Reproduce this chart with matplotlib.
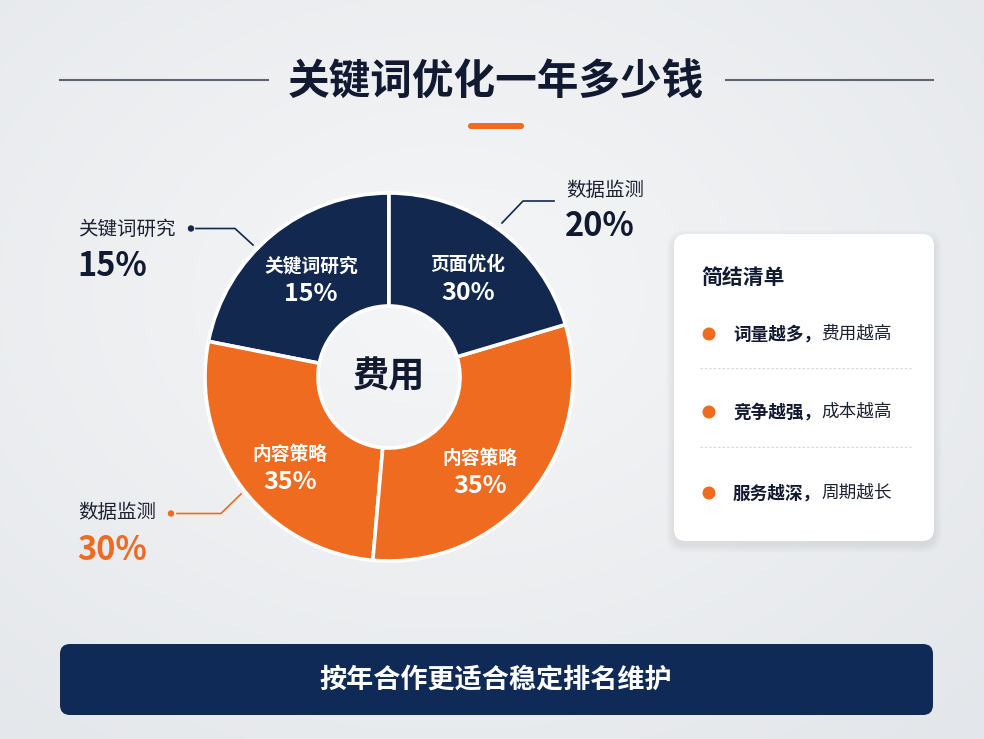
import numpy as np
import matplotlib.pyplot as plt
from matplotlib.patches import FancyBboxPatch, Circle
from matplotlib.colors import LinearSegmentedColormap

plt.rcParams['font.family'] = ['Noto Sans CJK SC', 'DejaVu Sans']

NAVY = '#13284f'
ORANGE = '#ee6b20'
INK = '#111a30'

# --- data ---
title = '关键词优化一年多少钱'
center_label = '费用'
# wedges counterclockwise starting at 12 o'clock
wedge_names = ['关键词研究', '内容策略', '内容策略', '页面优化']
wedge_text = ['15%', '35%', '35%', '30%']
wedge_share = [21.9, 26.7, 31.0, 20.4]   # angular share as drawn
wedge_colors = [NAVY, ORANGE, ORANGE, NAVY]

callout_names = ['关键词研究', '数据监测', '数据监测']
callout_values = ['15%', '20%', '30%']
callout_colors = [NAVY, NAVY, ORANGE]

summary_title = '简结清单'
summary_bold = ['词量越多，', '竞争越强，', '服务越深，']
summary_rest = ['费用越高', '成本越高', '周期越长']
banner_text = '按年合作更适合稳定排名维护'

W, H = 984, 739
fig = plt.figure(figsize=(W / 100, H / 100), dpi=100)

# background axes in pixel coordinates
bg = fig.add_axes([0, 0, 1, 1])
bg.set_xlim(0, W)
bg.set_ylim(H, 0)
bg.axis('off')

yy, xx = np.mgrid[0:H, 0:W]
dist = np.sqrt(((xx - W * 0.45) / W) ** 2 + ((yy - H * 0.4) / H) ** 2)
cmap = LinearSegmentedColormap.from_list('bgc', ['#f5f6f7', '#e3e6ea'])
bg.imshow(dist, cmap=cmap, extent=[0, W, H, 0], aspect='auto', zorder=0)

# title
bg.text(496, 83, title, ha='center', va='center', fontsize=30,
        fontweight='heavy', color=INK, zorder=3)
bg.plot([60, 268], [80, 80], color='#5d6475', lw=1.5, zorder=2)
bg.plot([726, 933], [80, 80], color='#5d6475', lw=1.5, zorder=2)
bg.add_patch(FancyBboxPatch((468, 123), 56, 6, boxstyle='round,pad=0,rounding_size=3',
                            fc=ORANGE, ec='none', zorder=3))

# donut
cx, cy, rad = 389, 377, 184
half = 192
pax = fig.add_axes([(cx - half) / W, (H - cy - half) / H, 2 * half / W, 2 * half / H])
wedges, _ = pax.pie(wedge_share, colors=wedge_colors, startangle=90, counterclock=True,
                    radius=1, wedgeprops=dict(width=0.614, edgecolor='white', linewidth=2.6))
lim = half / rad
pax.set_xlim(-lim, lim)
pax.set_ylim(-lim, lim)
pax.set_aspect('equal')
pax.axis('off')

# small pixel nudges so labels sit where the reference puts them
label_nudge = [(4, -2.5), (4, -14), (-9, -14), (2, -5)]
dy = 14 / rad
for w, name, pct, (nx, ny) in zip(wedges, wedge_names, wedge_text, label_nudge):
    mid = np.deg2rad((w.theta1 + w.theta2) / 2)
    x = 0.70 * np.cos(mid) + nx / rad
    y = 0.70 * np.sin(mid) + ny / rad
    pax.text(x, y + dy, name, ha='center', va='center', fontsize=13.5,
             fontweight='bold', color='white')
    pax.text(x, y - dy, pct, ha='center', va='center', fontsize=18,
             fontweight='bold', color='white')
pax.text(0, 0, center_label, ha='center', va='center', fontsize=26,
         fontweight='bold', color=INK)

# callouts
label_pos = [(78, 229), (566, 190), (78, 513)]
leader_pts = [[(196, 228.5), (235, 228.5), (253, 245)],
              [(554, 201), (523, 201), (502, 223)],
              [(177, 513.5), (221, 513.5), (241, 494)]]
dots = [(191, 228.5), None, (171, 513.5)]
for i in range(3):
    lx, ly = label_pos[i]
    bg.text(lx, ly, callout_names[i], ha='left', va='center', fontsize=14, color='#1d2233')
    vcol = ORANGE if callout_colors[i] == ORANGE else INK
    bg.text(lx - 1, ly + 37, callout_values[i], ha='left', va='center', fontsize=23.5,
            fontweight='heavy', color=vcol)
    px, py = zip(*leader_pts[i])
    bg.plot(px, py, color=callout_colors[i], lw=1.2, zorder=2)
    if dots[i] is not None:
        bg.add_patch(Circle(dots[i], 3.2, fc=callout_colors[i], ec='none', zorder=3))

# summary card with soft shadow
for k in range(8, 0, -1):
    bg.add_patch(FancyBboxPatch((674 - k, 238 - k), 260 + 2 * k, 307 + 2 * k,
                                boxstyle='round,pad=0,rounding_size=%d' % (12 + k),
                                fc='#9aa3b2', ec='none', alpha=0.025, zorder=2))
bg.add_patch(FancyBboxPatch((674, 234), 260, 307, boxstyle='round,pad=0,rounding_size=12',
                            fc='white', ec='none', zorder=3))
bg.text(701, 277, summary_title, ha='left', va='center', fontsize=15,
        fontweight='bold', color=INK, zorder=4)
item_y = [334, 412, 493]
em = 12.7 * 100 / 72
for y, b, r in zip(item_y, summary_bold, summary_rest):
    bg.add_patch(Circle((709, y), 6.5, fc=ORANGE, ec='none', zorder=4))
    bg.text(733, y, b, ha='left', va='center', fontsize=12.7, fontweight='bold',
            color=INK, zorder=4)
    bg.text(733 + 5 * em, y, r, ha='left', va='center', fontsize=12.7,
            color='#1d2233', zorder=4)
for y in [368, 447]:
    bg.plot([700, 913], [y, y], color='#d3d6db', lw=0.8, ls=(0, (2, 2)), zorder=4)

# bottom banner
bg.add_patch(FancyBboxPatch((60, 644), 873, 71, boxstyle='round,pad=0,rounding_size=10',
                            fc='#0f2a57', ec='none', zorder=3))
bg.text(496, 680, banner_text, ha='center', va='center', fontsize=19.5,
        fontweight='bold', color='white', zorder=4)

fig.savefig('out.png', dpi=100)
